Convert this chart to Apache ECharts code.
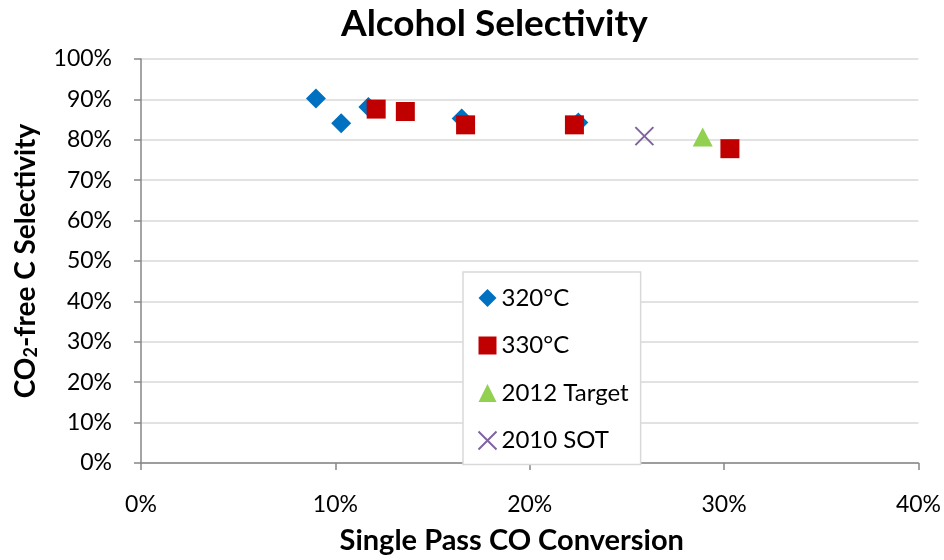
<!DOCTYPE html>
<html>
<head>
<meta charset="utf-8">
<script src="https://cdn.jsdelivr.net/npm/echarts@6/dist/echarts.min.js"></script>
<style>html,body{margin:0;padding:0;background:#fff}#c{width:944px;height:560px}</style>
</head>
<body>
<div id="c"></div>
<script>
// Data (percent values)
const seriesNames = ['320°C', '330°C', '2012 Target', '2010 SOT'];
const conv320 = [9.0, 10.3, 11.7, 16.5, 22.5];
const sel320  = [90.2, 84.1, 88.1, 85.3, 84.3];
const conv330 = [12.1, 13.6, 16.7, 22.3, 30.3];
const sel330  = [87.6, 87.0, 83.7, 83.7, 77.8];
const convTarget = [28.9];
const selTarget  = [80.7];
const convSOT = [25.9];
const selSOT  = [80.9];
const xTicks = [0, 10, 20, 30, 40];
const yTicks = [0, 10, 20, 30, 40, 50, 60, 70, 80, 90, 100];

const pair = (xs, ys) => xs.map((x, i) => [x, ys[i]]);
const FONT = 'Lato';

const chart = echarts.init(document.getElementById('c'), null, {renderer: 'canvas'});
chart.setOption({
  animation: false,
  backgroundColor: '#ffffff',
  textStyle: {fontFamily: FONT},
  title: {
    text: 'Alcohol Selectivity',
    left: 336, top: 1,
    textStyle: {fontFamily: FONT, fontSize: 37, fontWeight: 'bold', color: '#000'}
  },
  grid: {left: 141, right: 23, top: 59, bottom: 93, containLabel: false},
  legend: {
    orient: 'vertical',
    left: 463, top: 272,
    padding: [14, 12, 12, 13],
    itemGap: 23.5,
    itemWidth: 18, itemHeight: 18,
    itemTextGap: 3,
    backgroundColor: '#ffffff',
    borderColor: '#D9D9D9',
    borderWidth: 1.5,
    borderRadius: 0,
    textStyle: {fontFamily: FONT, fontSize: 24, color: '#000', lineHeight: 24},
    data: seriesNames
  },
  xAxis: {
    type: 'value',
    min: xTicks[0], max: xTicks[xTicks.length - 1], interval: 10,
    name: 'Single Pass CO Conversion',
    nameLocation: 'middle', nameGap: 63,
    nameTextStyle: {fontFamily: FONT, fontSize: 29, fontWeight: 'bold', color: '#000', padding: [0, 36, 0, 0]},
    axisLine: {show: true, lineStyle: {color: '#868686', width: 1.5}},
    axisTick: {show: true, inside: false, length: 7, lineStyle: {color: '#868686', width: 1.5}},
    axisLabel: {formatter: '{value}%', margin: 30, fontFamily: FONT, fontSize: 23, color: '#000'},
    splitLine: {show: false}
  },
  yAxis: {
    type: 'value',
    min: yTicks[0], max: yTicks[yTicks.length - 1], interval: 10,
    name: '{a|CO}{s|2}{a|-free C Selectivity}',
    nameLocation: 'middle', nameGap: 101, nameRotate: 90,
    nameTextStyle: {
      rich: {
        a: {fontFamily: FONT, fontSize: 28, fontWeight: 'bold', color: '#000'},
        s: {fontFamily: FONT, fontSize: 18, fontWeight: 'bold', color: '#000', padding: [11, 0, 0, 0]}
      }
    },
    axisLine: {show: true, lineStyle: {color: '#868686', width: 1.5}},
    axisTick: {show: true, inside: false, length: 7, lineStyle: {color: '#868686', width: 1.5}},
    axisLabel: {formatter: '{value}%', margin: 29, fontFamily: FONT, fontSize: 23, color: '#000'},
    splitLine: {show: true, lineStyle: {color: '#D9D9D9', width: 1.5}}
  },
  series: [
    {
      name: seriesNames[0], type: 'scatter', symbol: 'diamond', symbolSize: 20,
      itemStyle: {color: '#0070C0', opacity: 1},
      data: pair(conv320, sel320)
    },
    {
      name: seriesNames[1], type: 'scatter', symbol: 'rect', symbolSize: 19,
      itemStyle: {color: '#C00000', opacity: 1},
      data: pair(conv330, sel330)
    },
    {
      name: seriesNames[2], type: 'scatter', symbol: 'triangle', symbolSize: [20, 19],
      itemStyle: {color: '#92D050', opacity: 1},
      data: pair(convTarget, selTarget)
    },
    {
      name: seriesNames[3], type: 'scatter', symbol: 'path://M0,0L10,10M10,0L0,10', symbolSize: 18,
      itemStyle: {color: 'none', borderColor: '#8064A2', borderWidth: 2, opacity: 1},
      data: pair(convSOT, selSOT)
    }
  ]
});
</script>
</body>
</html>
